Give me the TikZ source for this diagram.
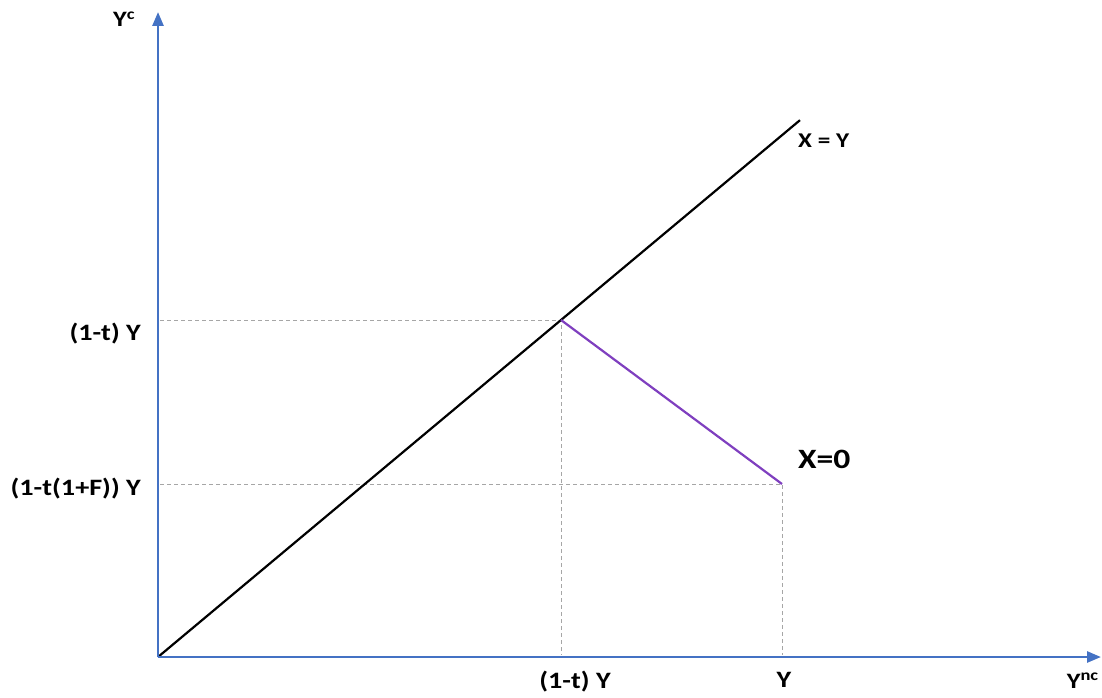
\documentclass[tikz,border=0pt]{standalone}
\usepackage{fontspec}
\setmainfont{Carlito}
\usetikzlibrary{arrows.meta,calc}
\definecolor{axisblue}{HTML}{4472C4}
\definecolor{lineviolet}{HTML}{7F3FBF}
\definecolor{guidegray}{HTML}{A6A6A6}
\newcommand{\stretchtxt}[1]{\scalebox{1.2}[1]{#1}}
\tikzset{
  axis/.style={axisblue, line width=2.6pt, -{Triangle[length=14pt,width=11pt]}},
  guide/.style={guidegray, line width=0.9pt, dash pattern=on 4pt off 3pt},
  lbl/.style={font=\bfseries\fontsize{23.5}{26}\selectfont, inner sep=0pt},
  axlbl/.style={font=\bfseries\fontsize{22}{24}\selectfont, inner sep=0pt},
}
\begin{document}
\begin{tikzpicture}[x=1pt,y=-1pt]
\useasboundingbox (0,0) rectangle (1102,698);
\coordinate (O) at (158,657);
\coordinate (ytop) at (158,12);
\coordinate (xend) at (1101,657);
\coordinate (P) at (561,320);
\coordinate (D) at ($(O)!1.593!(P)$);
\coordinate (Q) at (782,484);
\coordinate (Py) at (160,320);
\coordinate (Qy) at (160,484);
\coordinate (Px) at (561,655);
\coordinate (Qx) at (782,655);
% guides
\draw[guide] (Py) -- (P) -- (Px);
\draw[guide] (Qy) -- (Q) -- (Qx);
% lines
\draw[black, line width=2.2pt] (O) -- (D);
\draw[lineviolet, line width=2.2pt] (P) -- (Q);
% axes
\draw[axis] (O) -- (ytop);
\draw[axis] (O) -- (xend);
% labels
\node[axlbl, anchor=base west] (lyc) at (113,27) {\stretchtxt{Y\textsuperscript{c}}};
\node[lbl, anchor=base east] (l1) at (141,340) {\stretchtxt{(1-t) Y}};
\node[lbl, anchor=base east] (l2) at (141,495) {\stretchtxt{(1-t(1+F)) Y}};
\node[lbl, anchor=base] (l3) at (575,688) {\stretchtxt{(1-t) Y}};
\node[lbl, anchor=base] (l4) at (784,687) {\stretchtxt{Y}};
\node[axlbl, anchor=base east] (l5) at (1099,688) {\stretchtxt{Y\textsuperscript{nc}}};
\node[lbl, anchor=base west, font=\bfseries\fontsize{21}{23}\selectfont] (l6) at (798,147) {\stretchtxt{X = Y}};
\node[lbl, anchor=base west, font=\bfseries\fontsize{28}{30}\selectfont] (l7) at (798,468) {\stretchtxt{X=0}};
\end{tikzpicture}
\end{document}
